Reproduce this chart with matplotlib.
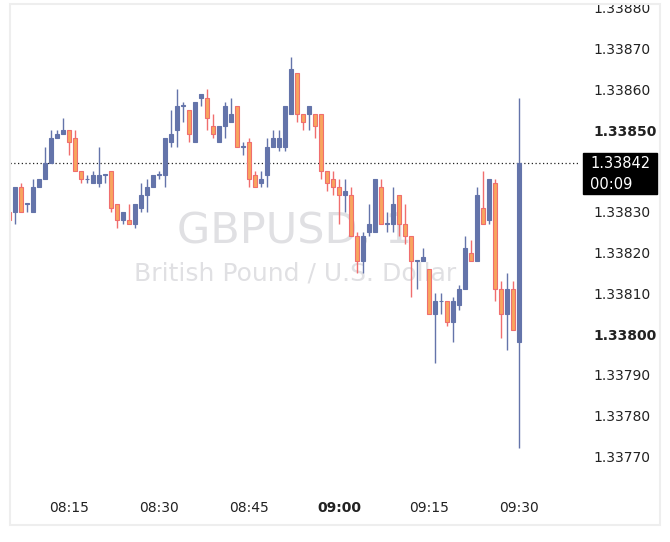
import numpy as np
import matplotlib
matplotlib.use('Agg')
import matplotlib.pyplot as plt
from matplotlib.patches import Rectangle

# one-minute candles, minutes after 08:00
minutes = list(range(5, 91))
opens = [1.33830, 1.33830, 1.33836, 1.33832, 1.33830, 1.33836, 1.33838, 1.33842, 1.33848, 1.33849,
         1.33850, 1.33848, 1.33840, 1.33838, 1.33837, 1.33837, 1.33839, 1.33840, 1.33832, 1.33828,
         1.33828, 1.33827, 1.33831, 1.33834, 1.33836, 1.33839, 1.33839, 1.33847, 1.33850, 1.33856,
         1.33855, 1.33847, 1.33858, 1.33858, 1.33851, 1.33847, 1.33851, 1.33852, 1.33856, 1.33846,
         1.33847, 1.33839, 1.33837, 1.33839, 1.33846, 1.33846, 1.33846, 1.33854, 1.33864, 1.33854,
         1.33854, 1.33854, 1.33854, 1.33840, 1.33838, 1.33836, 1.33834, 1.33834, 1.33824, 1.33818,
         1.33825, 1.33825, 1.33836, 1.33827, 1.33827, 1.33834, 1.33827, 1.33824, 1.33818, 1.33818,
         1.33816, 1.33805, 1.33808, 1.33808, 1.33803, 1.33807, 1.33811, 1.33820, 1.33818, 1.33831,
         1.33828, 1.33837, 1.33811, 1.33805, 1.33811, 1.33798]
highs = [1.33830, 1.33836, 1.33837, 1.33832, 1.33838, 1.33838, 1.33846, 1.33850, 1.33850, 1.33853,
         1.33850, 1.33850, 1.33840, 1.33839, 1.33840, 1.33846, 1.33839, 1.33840, 1.33832, 1.33830,
         1.33832, 1.33832, 1.33837, 1.33838, 1.33839, 1.33840, 1.33848, 1.33855, 1.33860, 1.33857,
         1.33855, 1.33857, 1.33859, 1.33860, 1.33854, 1.33851, 1.33857, 1.33858, 1.33856, 1.33847,
         1.33848, 1.33840, 1.33840, 1.33848, 1.33850, 1.33850, 1.33856, 1.33868, 1.33864, 1.33854,
         1.33856, 1.33854, 1.33854, 1.33840, 1.33840, 1.33838, 1.33838, 1.33836, 1.33825, 1.33825,
         1.33832, 1.33838, 1.33838, 1.33830, 1.33836, 1.33834, 1.33832, 1.33824, 1.33818, 1.33821,
         1.33816, 1.33810, 1.33810, 1.33808, 1.33809, 1.33812, 1.33824, 1.33823, 1.33836, 1.33840,
         1.33838, 1.33838, 1.33813, 1.33815, 1.33813, 1.33858]
lows = [1.33828, 1.33827, 1.33830, 1.33830, 1.33830, 1.33836, 1.33838, 1.33842, 1.33848, 1.33849,
        1.33844, 1.33840, 1.33837, 1.33837, 1.33837, 1.33836, 1.33837, 1.33830, 1.33826, 1.33827,
        1.33827, 1.33826, 1.33830, 1.33830, 1.33836, 1.33838, 1.33836, 1.33846, 1.33846, 1.33852,
        1.33847, 1.33847, 1.33856, 1.33850, 1.33848, 1.33847, 1.33848, 1.33852, 1.33846, 1.33844,
        1.33836, 1.33836, 1.33836, 1.33836, 1.33846, 1.33845, 1.33845, 1.33854, 1.33852, 1.33850,
        1.33850, 1.33848, 1.33838, 1.33835, 1.33834, 1.33827, 1.33830, 1.33824, 1.33815, 1.33815,
        1.33824, 1.33825, 1.33827, 1.33825, 1.33825, 1.33824, 1.33822, 1.33809, 1.33811, 1.33818,
        1.33805, 1.33793, 1.33805, 1.33802, 1.33798, 1.33806, 1.33811, 1.33818, 1.33818, 1.33827,
        1.33827, 1.33808, 1.33799, 1.33796, 1.33801, 1.33772]
closes = [1.33828, 1.33836, 1.33830, 1.33832, 1.33836, 1.33838, 1.33842, 1.33848, 1.33849, 1.33850,
          1.33847, 1.33840, 1.33838, 1.33838, 1.33839, 1.33839, 1.33839, 1.33831, 1.33828, 1.33830,
          1.33827, 1.33832, 1.33834, 1.33836, 1.33839, 1.33839, 1.33848, 1.33849, 1.33856, 1.33856,
          1.33849, 1.33857, 1.33859, 1.33853, 1.33849, 1.33851, 1.33856, 1.33854, 1.33846, 1.33846,
          1.33838, 1.33836, 1.33838, 1.33846, 1.33848, 1.33848, 1.33856, 1.33865, 1.33854, 1.33852,
          1.33856, 1.33851, 1.33840, 1.33837, 1.33836, 1.33834, 1.33835, 1.33824, 1.33818, 1.33824,
          1.33827, 1.33838, 1.33827, 1.33827, 1.33832, 1.33827, 1.33824, 1.33818, 1.33818, 1.33819,
          1.33805, 1.33808, 1.33808, 1.33803, 1.33808, 1.33811, 1.33821, 1.33818, 1.33834, 1.33827,
          1.33838, 1.33811, 1.33805, 1.33811, 1.33801, 1.33842]

# 1.33840 sits under the current-price tag, so it is not labelled
price_ticks = [1.33770, 1.33780, 1.33790, 1.33800, 1.33810, 1.33820,
               1.33830, 1.33850, 1.33860, 1.33870, 1.33880]
bold_prices = ['1.33850', '1.33800']
time_ticks = [15, 30, 45, 60, 75, 90]
time_labels = ['08:15', '08:30', '08:45', '09:00', '09:15', '09:30']
countdown = '00:09'

up_color = '#6474aa'
down_face = '#f8a55e'
down_edge = '#f06e6e'

W, H = 670, 542
fig = plt.figure(figsize=(W / 100, H / 100), dpi=100)
fig.patch.set_facecolor('white')
ax = fig.add_axes([10 / W, (H - 490) / H, 570 / W, 486 / H])
ax.set_facecolor('white')
for s in ax.spines.values():
    s.set_visible(False)

ax.set_xlim(5.1667, 100.1667)
ax.set_ylim(1.3376172, 1.3388098)

# watermark
ax.text(0.5, 0.508, 'GBPUSD, 1', transform=ax.transAxes, ha='center', va='baseline',
        fontsize=31, color='#e0e0e3', zorder=0)
ax.text(0.5, 0.432, 'British Pound / U.S. Dollar', transform=ax.transAxes, ha='center',
        va='baseline', fontsize=18, color='#e0e0e3', zorder=0)

for m, o, h, l, c in zip(minutes, opens, highs, lows, closes):
    up = c >= o
    wick = up_color if up else down_edge
    ax.vlines(m, l, h, color=wick, lw=1, zorder=2)
    body = max(abs(c - o), 0.0000015)
    ax.bar(m, body, bottom=min(o, c), width=0.72,
           color=up_color if up else down_face,
           edgecolor=up_color if up else down_edge, linewidth=0.8, zorder=3)

last = closes[-1]
ax.axhline(last, color='#222222', lw=0.9, ls=(0, (1, 2)), zorder=1)

ax.set_yticks(price_ticks)
ax.set_yticklabels(['%.5f' % p for p in price_ticks])
ax.yaxis.tick_right()
ax.tick_params(axis='y', length=0, pad=9.5, labelsize=10, labelcolor='#222222')
for t in ax.get_yticklabels():
    if t.get_text() in bold_prices:
        t.set_fontweight('bold')

ax.set_xticks(time_ticks)
ax.set_xticklabels(time_labels)
ax.tick_params(axis='x', length=0, pad=8, labelsize=10, labelcolor='#222222')
for t in ax.get_xticklabels():
    if t.get_text() == '09:00':
        t.set_fontweight('bold')

# current price tag
fig.add_artist(Rectangle((583 / W, 1 - 194 / H), 74 / W, 41 / H,
                         transform=fig.transFigure, color='black', zorder=5))
fig.text(590 / W, 1 - 164 / H, '%.5f' % last, color='white', fontsize=10.5,
         va='center', ha='left', zorder=6)
fig.text(590 / W, 1 - 184 / H, countdown, color='white', fontsize=10.5,
         va='center', ha='left', zorder=6)

# outer frame
fig.add_artist(Rectangle((10 / W, 1 - 525 / H), 650 / W, 521 / H, transform=fig.transFigure,
                         fill=False, edgecolor='#eeeeee', lw=1.5))

fig.savefig('out.png', dpi=100)
